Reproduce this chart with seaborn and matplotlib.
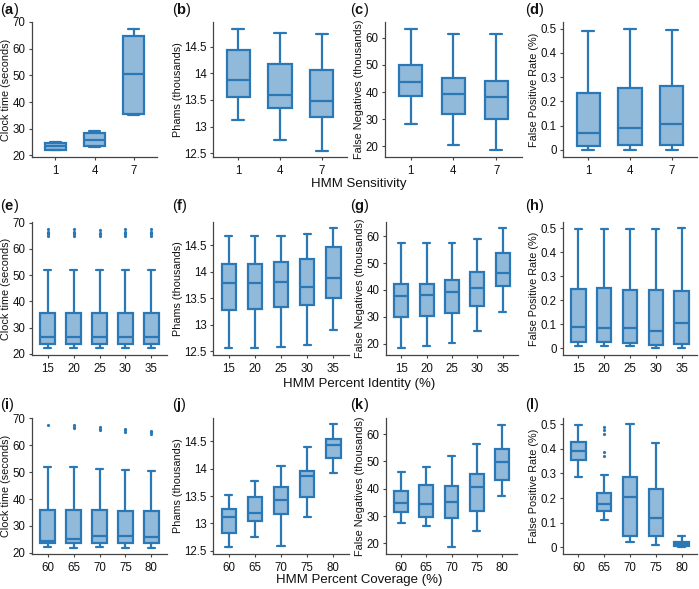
import matplotlib
matplotlib.use("Agg")
import matplotlib.pyplot as plt
from matplotlib.ticker import FuncFormatter
import numpy as np
import pandas as pd
import seaborn as sns

# ============ data: [low whisker, Q1, median, Q3, high whisker] ============
sens_levels = ["1", "4", "7"]
ident_levels = ["15", "20", "25", "30", "35"]
cover_levels = ["60", "65", "70", "75", "80"]

clock_sens = [[21.9, 22.2, 23.5, 24.6, 25.2],
              [23.1, 23.5, 25.9, 28.5, 29.1],
              [35.0, 35.6, 50.4, 64.8, 67.4]]
phams_sens = [[13.13, 13.55, 13.88, 14.44, 14.83],
              [12.74, 13.34, 13.59, 14.18, 14.75],
              [12.55, 13.18, 13.48, 14.06, 14.74]]
fneg_sens = [[28.3, 38.4, 43.7, 50.1, 63.3],
             [20.6, 31.8, 39.4, 45.2, 61.5],
             [18.8, 30.2, 38.2, 44.0, 61.5]]
fpr_sens = [[0.0, 0.015, 0.070, 0.236, 0.490],
            [0.0, 0.021, 0.091, 0.255, 0.500],
            [0.0, 0.021, 0.107, 0.264, 0.496]]

clock_ident = [[22.1, 23.7, 26.4, 35.7, 51.8],
               [22.1, 23.7, 26.4, 35.7, 51.8],
               [22.1, 23.7, 26.4, 35.7, 51.8],
               [22.1, 23.7, 26.4, 35.7, 51.8],
               [22.1, 23.7, 26.4, 35.7, 51.8]]
clock_ident_out = [[65.0, 65.5, 66.0, 66.5, 67.6],
                   [65.0, 65.5, 66.0, 66.5, 67.6],
                   [65.0, 65.5, 66.0, 67.0],
                   [65.0, 65.5, 66.0, 66.5, 67.6],
                   [65.0, 65.5, 66.0, 66.5, 67.6]]
phams_ident = [[12.56, 13.27, 13.78, 14.14, 14.68],
               [12.56, 13.29, 13.78, 14.14, 14.68],
               [12.59, 13.33, 13.81, 14.18, 14.68],
               [12.62, 13.38, 13.71, 14.24, 14.72],
               [12.91, 13.50, 13.89, 14.46, 14.83]]
fneg_ident = [[18.5, 29.8, 37.6, 42.3, 57.5],
              [19.1, 30.3, 38.2, 42.2, 57.5],
              [20.4, 31.5, 39.1, 43.8, 57.5],
              [24.7, 34.2, 40.9, 46.6, 59.1],
              [31.8, 41.6, 46.5, 53.6, 63.2]]
fpr_ident = [[0.008, 0.026, 0.088, 0.247, 0.494],
             [0.008, 0.025, 0.083, 0.250, 0.494],
             [0.008, 0.022, 0.083, 0.242, 0.497],
             [0.001, 0.014, 0.069, 0.240, 0.494],
             [0.001, 0.015, 0.105, 0.238, 0.500]]

clock_cover = [[22.1, 23.5, 24.5, 35.8, 51.8],
               [21.9, 23.5, 25.3, 35.8, 51.8],
               [22.1, 23.5, 26.3, 35.8, 51.3],
               [21.9, 23.5, 26.3, 35.6, 50.9],
               [21.9, 23.5, 26.0, 35.6, 50.5]]
clock_cover_out = [[67.4],
                   [66.3, 66.9, 67.4],
                   [65.6, 66.2, 66.7],
                   [64.9, 65.5, 66.0],
                   [64.3, 64.8, 65.2]]
phams_cover = [[12.57, 12.83, 13.11, 13.26, 13.52],
               [12.76, 13.05, 13.19, 13.48, 13.77],
               [12.59, 13.17, 13.42, 13.67, 14.05],
               [13.12, 13.48, 13.86, 13.96, 14.39],
               [13.92, 14.20, 14.43, 14.54, 14.82]]
fneg_cover = [[27.5, 31.4, 34.9, 39.2, 46.0],
              [26.3, 29.8, 34.3, 41.3, 48.1],
              [18.5, 29.3, 35.1, 41.0, 52.0],
              [24.6, 31.7, 40.7, 45.5, 56.3],
              [37.2, 43.1, 49.8, 54.6, 63.4]]
fpr_cover = [[0.285, 0.356, 0.390, 0.427, 0.497],
             [0.112, 0.147, 0.175, 0.222, 0.292],
             [0.021, 0.048, 0.205, 0.284, 0.500],
             [0.011, 0.048, 0.119, 0.237, 0.425],
             [0.000, 0.004, 0.014, 0.023, 0.048]]
fpr_cover_out = [[], [0.370, 0.386, 0.462, 0.476, 0.489], [], [], []]

ylabels = ["Clock time (seconds)", "Phams (thousands)",
           "False Negatives (thousands)", "False Positive Rate (%)"]
row_titles = ["HMM Sensitivity", "HMM Percent Identity (%)",
              "HMM Percent Coverage (%)"]

# ============ style ============
EDGE = "#2a78b5"
FILL = "#90b9da"
W, H = 699, 589

sns.set_theme(style="ticks")
plt.rcParams["font.family"] = ["Liberation Sans", "DejaVu Sans"]
plt.rcParams["mathtext.fontset"] = "custom"
plt.rcParams["mathtext.rm"] = "Liberation Sans"
plt.rcParams["mathtext.bf"] = "Liberation Sans:bold"

fig = plt.figure(figsize=(W / 100, H / 100), dpi=100)

# axes rectangles in pixels: (left, right) per column, (top, bottom) per row
rows_px = [(22, 157), (222, 355), (418, 554)]
cols_px = [
    [(32, 157), (213, 347), (385, 522), (563, 697)],
    [(32, 167), (213, 349), (386, 518), (563, 697)],
    [(32, 167), (213, 349), (386, 517), (563, 697)],
]
ylims = [
    [(19.4, 69.9), (12.43, 14.96), (16.1, 65.8), (-0.03, 0.528)],
    [(19.6, 70.2), (12.43, 14.94), (15.8, 65.3), (-0.029, 0.525)],
    [(19.6, 70.1), (12.44, 14.93), (16.1, 65.9), (-0.027, 0.525)],
]
yticks = [np.arange(20, 71, 10), np.arange(12.5, 14.6, 0.5),
          np.arange(20, 61, 10), np.arange(0, 0.51, 0.1)]

panels = [
    (sens_levels, [clock_sens, phams_sens, fneg_sens, fpr_sens],
     [None, None, None, None]),
    (ident_levels, [clock_ident, phams_ident, fneg_ident, fpr_ident],
     [clock_ident_out, None, None, None]),
    (cover_levels, [clock_cover, phams_cover, fneg_cover, fpr_cover],
     [clock_cover_out, None, None, fpr_cover_out]),
]
letters = "abcdefghijkl"
letter_x = [0, 172, 350, 525]
letter_y = [10, 206, 405]
title_y = [184, 384, 580]

for r, (levels, stats_list, outs_list) in enumerate(panels):
    top, bottom = rows_px[r]
    for c in range(4):
        left, right = cols_px[r][c]
        ax = fig.add_axes([left / W, 1 - bottom / H,
                           (right - left) / W, (bottom - top) / H])
        stats = stats_list[c]
        df = pd.DataFrame([(lvl, v) for lvl, s in zip(levels, stats) for v in s],
                          columns=["level", "value"])
        sns.boxplot(data=df, x="level", y="value", order=levels, ax=ax,
                    whis=(0, 100), width=0.55, color=FILL, saturation=1,
                    linecolor=EDGE, linewidth=1.6, showfliers=False)
        outs = outs_list[c]
        if outs is not None:
            odf = pd.DataFrame([(lvl, v) for lvl, o in zip(levels, outs) for v in o],
                               columns=["level", "value"])
            sns.stripplot(data=odf, x="level", y="value", order=levels, ax=ax,
                          jitter=False, color=EDGE, size=2.3, linewidth=0)
        ax.set_ylim(*ylims[r][c])
        ax.set_xlim(-0.6, len(levels) - 0.4)
        ax.set_yticks(yticks[c])
        ax.yaxis.set_major_formatter(FuncFormatter(lambda v, p: f"{round(v, 2):g}"))
        ax.set_xlabel("")
        ax.set_ylabel(ylabels[c], fontsize=7.8, color="#111111", labelpad=1)
        ax.tick_params(labelsize=8.3, length=2.5, width=0.8, color="#444444",
                       labelcolor="#111111", pad=2)
        ax.tick_params(axis="x", pad=3)
        sns.despine(ax=ax)
        for sp in ("left", "bottom"):
            ax.spines[sp].set_color("#444444")
            ax.spines[sp].set_linewidth(0.9)
        fig.text(letter_x[c] / W, 1 - letter_y[r] / H,
                 "(" + r"$\mathbf{" + letters[r * 4 + c] + "}$" + ")",
                 fontsize=10.5, ha="left", va="center", color="#111111")
    fig.text(359 / W, 1 - title_y[r] / H, row_titles[r], fontsize=9.5,
             ha="center", va="center", color="#111111")

fig.savefig("out.png", dpi=100)
